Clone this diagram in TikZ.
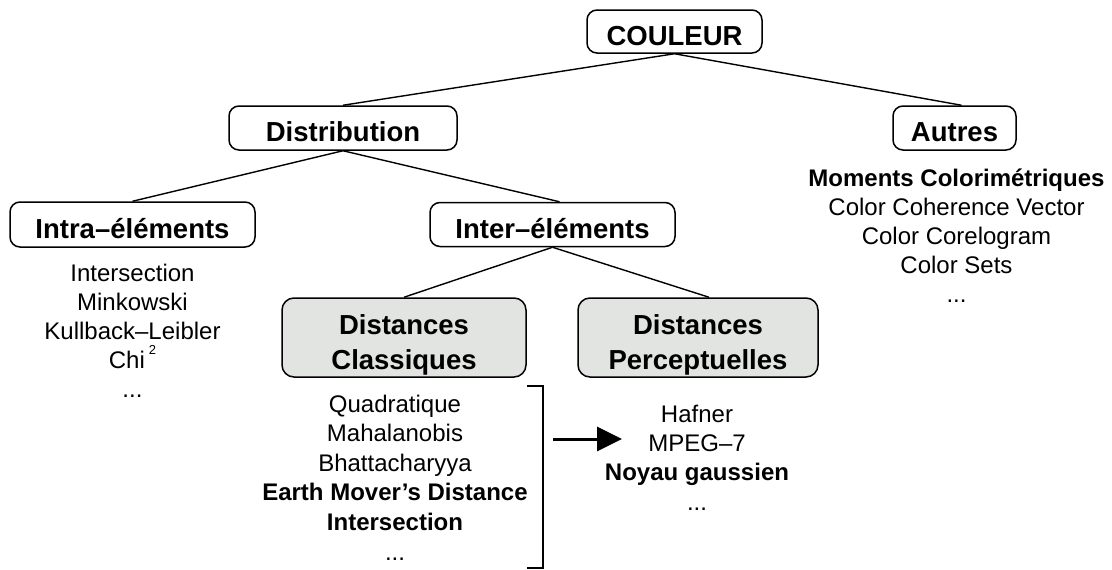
\documentclass[tikz,border=0pt]{standalone}
\usepackage{fontspec}
\setmainfont{Liberation Sans}
\usetikzlibrary{calc,arrows.meta}
\definecolor{boxgray}{HTML}{E1E4E0}
\begin{document}
\begin{tikzpicture}[x=1pt,y=-1pt,
  box/.style={draw, line width=1.5pt, rounded corners=10pt, inner sep=0pt,
    font=\fontsize{27.5}{35}\selectfont\bfseries, text height=27.5pt, text depth=0pt},
  gbox/.style={draw, line width=1.5pt, fill=boxgray, rounded corners=12pt, inner sep=0pt,
    font=\fontsize{27.5}{34.5}\selectfont\bfseries, align=center},
  item/.style={font=\fontsize{24}{29}\selectfont, inner sep=0pt, anchor=base},
  bitem/.style={item, font=\fontsize{24}{29}\selectfont\bfseries},
  link/.style={line width=1.4pt}]
\useasboundingbox (0,0) rectangle (1112,570);

% boxes
\node[box, minimum width=175pt, minimum height=43pt] (cou) at (674.5,31.5) {COULEUR};
\node[box, minimum width=228pt, minimum height=44pt] (dis) at (343,128) {Distribution};
\node[box, minimum width=123pt, minimum height=44pt] (aut) at (954.5,128) {Autres};
\node[box, minimum width=245pt, minimum height=45pt] (intra) at (132.5,224.5) {Intra–éléments};
\node[box, minimum width=245pt, minimum height=44pt] (inter) at (552.5,224.5) {Inter–éléments};
\node[gbox, minimum width=244pt, minimum height=79pt] (dc) at (404,337.5) {\rule{0pt}{34.5pt}Distances\\Classiques};
\node[gbox, minimum width=240pt, minimum height=79pt] (dp) at (698,337.5) {\rule{0pt}{34.5pt}Distances\\Perceptuelles};

% connectors
\draw[link] (cou.south) -- (dis.north);
\draw[link] (cou.south) -- ($(aut.north)+(7,0)$);
\draw[link] (dis.south) -- (intra.north);
\draw[link] (dis.south) -- ($(inter.north)+(7,0)$);
\draw[link] (inter.south) -- (dc.north);
\draw[link] (inter.south) -- ($(dp.north)+(11,0)$);

% Intra list
\node[item] (i1) at (132.5,281) {Intersection};
\node[item] (i2) at (132.5,310) {Minkowski};
\node[item] (i3) at (132.5,339) {Kullback–Leibler};
\node[item] (i4) at (132.5,368) {Chi\,\raisebox{0.55em}{\fontsize{13}{13}\selectfont 2}};
\node[item] (i5) at (132.5,397) {...};

% Autres list
\node[bitem] (a1) at (956.5,186) {Moments Colorimétriques};
\node[item] (a2) at (956.5,215) {Color Coherence Vector};
\node[item] (a3) at (956.5,244) {Color Corelogram};
\node[item] (a4) at (956.5,273) {Color Sets};
\node[item] (a5) at (956.5,302) {...};

% Classiques list
\node[item] (c1) at (395,412) {Quadratique};
\node[item] (c2) at (395,441.6) {Mahalanobis};
\node[item] (c3) at (395,471.2) {Bhattacharyya};
\node[bitem] (c4) at (395,500.8) {Earth Mover’s Distance};
\node[bitem] (c5) at (395,530.4) {Intersection};
\node[item] (c6) at (395,560) {...};

% Perceptuelles list
\node[item] (p1) at (697,422) {Hafner};
\node[item] (p2) at (697,451.3) {MPEG–7};
\node[bitem] (p3) at (697,480.6) {Noyau gaussien};
\node[item] (p4) at (697,510) {...};

% bracket and arrow
\coordinate (b1) at (527,386);
\coordinate (b2) at (543,386);
\coordinate (b3) at (543,568);
\coordinate (b4) at (527,568);
\draw[link] (b1) -- (b2) -- (b3) -- (b4);
\coordinate (as) at (553,439);
\coordinate (ae) at (622,439);
\draw[line width=3pt, -{Triangle[length=25pt,width=24pt]}] (as) -- (ae);
\end{tikzpicture}
\end{document}
